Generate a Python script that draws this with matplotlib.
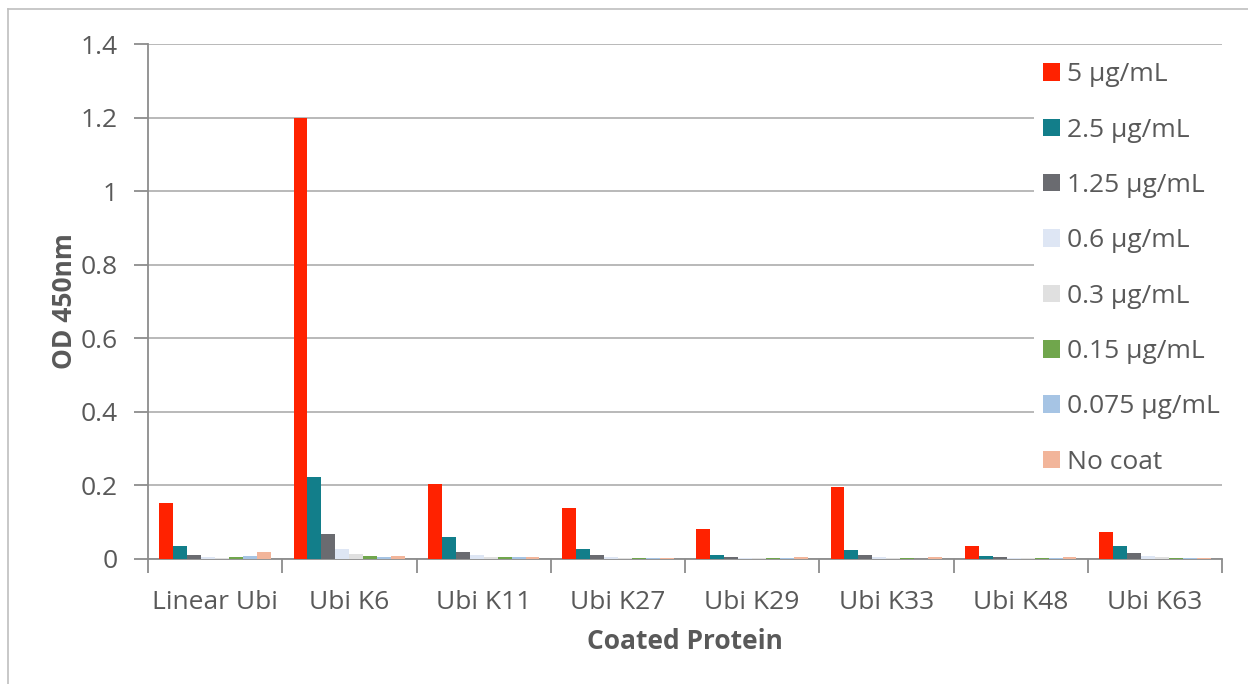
import matplotlib
matplotlib.use("Agg")
import matplotlib.pyplot as plt
import numpy as np
from matplotlib.patches import Patch
from matplotlib.lines import Line2D

plt.rcParams['font.family'] = ['Open Sans', 'DejaVu Sans']

categories = ["Linear Ubi", "Ubi K6", "Ubi K11", "Ubi K27", "Ubi K29", "Ubi K33", "Ubi K48", "Ubi K63"]
series_names = ["5 µg/mL", "2.5 µg/mL", "1.25 µg/mL", "0.6 µg/mL", "0.3 µg/mL",
                "0.15 µg/mL", "0.075 µg/mL", "No coat"]
conc_5 = [0.151, 1.200, 0.204, 0.139, 0.082, 0.195, 0.034, 0.074]
conc_2_5 = [0.034, 0.224, 0.061, 0.028, 0.011, 0.025, 0.007, 0.036]
conc_1_25 = [0.012, 0.069, 0.020, 0.012, 0.006, 0.010, 0.005, 0.017]
conc_0_6 = [0.006, 0.028, 0.010, 0.006, 0.004, 0.006, 0.003, 0.009]
conc_0_3 = [0.004, 0.014, 0.006, 0.004, 0.003, 0.004, 0.003, 0.006]
conc_0_15 = [0.006, 0.009, 0.006, 0.004, 0.003, 0.004, 0.004, 0.004]
conc_0_075 = [0.009, 0.005, 0.006, 0.004, 0.003, 0.001, 0.004, 0.003]
no_coat = [0.020, 0.007, 0.006, 0.004, 0.006, 0.006, 0.006, 0.004]
series = [conc_5, conc_2_5, conc_1_25, conc_0_6, conc_0_3, conc_0_15, conc_0_075, no_coat]
colors = ["#FF2200", "#127E8A", "#6A6B70", "#DEE6F4", "#E0E0E0", "#70A64C", "#A6C4E4", "#F2B59A"]

W, H = 1248, 684
fig = plt.figure(figsize=(W / 100, H / 100), dpi=100)
ax = fig.add_axes([148 / W, (H - 559) / H, (1222 - 148) / W, (559 - 44) / H])

x = np.arange(len(categories))
bw = 0.104
n = len(series)
for i, (vals, c) in enumerate(zip(series, colors)):
    offs = (i - (n - 1) / 2) * bw
    ax.bar(x + offs, vals, width=bw, color=c, linewidth=0, zorder=3)

ax.set_xlim(-0.5, len(categories) - 0.5)
ax.set_ylim(0, 1.4)
ax.set_yticks(np.arange(0, 1.41, 0.2))
ax.set_yticklabels(["0", "0.2", "0.4", "0.6", "0.8", "1", "1.2", "1.4"])
ax.yaxis.grid(True, color='#B3B3B3', linewidth=1.3, zorder=0)
ax.set_axisbelow(True)

ax.set_xticks(x)
ax.set_xticklabels(categories)
ax.set_xticks(np.arange(-0.5, len(categories)), minor=True)
ax.tick_params(axis='x', which='major', length=0, pad=22, labelsize=19, labelcolor='#595959')
ax.tick_params(axis='x', which='minor', length=10, width=1.3, color='#8C8C8C', direction='out')
ax.tick_params(axis='y', length=10, width=1.3, color='#8C8C8C', pad=12, labelsize=19, labelcolor='#595959')

for s in ['top', 'right']:
    ax.spines[s].set_visible(False)
for s in ['left', 'bottom']:
    ax.spines[s].set_color('#8C8C8C')
    ax.spines[s].set_linewidth(1.3)

ax.set_ylabel("OD 450nm", fontsize=19, fontweight='bold', color='#595959', labelpad=2)
ax.set_xlabel("Coated Protein", fontsize=19, fontweight='bold', color='#595959', labelpad=10)

handles = [Patch(facecolor=c, edgecolor='none') for c in colors]
leg = fig.legend(handles, series_names, loc='upper left',
                 bbox_to_anchor=(1034 / W, (H - 53) / H), frameon=True,
                 fontsize=19, labelcolor='#595959', handlelength=0.65, handleheight=0.65,
                 handletextpad=0.25, labelspacing=1.15, borderpad=0.35, borderaxespad=0)
leg.get_frame().set_facecolor('white')
leg.get_frame().set_edgecolor('none')
leg.get_frame().set_alpha(1)

# outer chart frame: only top and left edges are inside the image
fig.add_artist(Line2D([7.5 / W, 1.0], [1 - 8.5 / H, 1 - 8.5 / H], transform=fig.transFigure,
                      color='#BFBFBF', linewidth=1.2))
fig.add_artist(Line2D([7.5 / W, 7.5 / W], [0.0, 1 - 8.5 / H], transform=fig.transFigure,
                      color='#BFBFBF', linewidth=1.2))

fig.savefig("out.png", dpi=100)
